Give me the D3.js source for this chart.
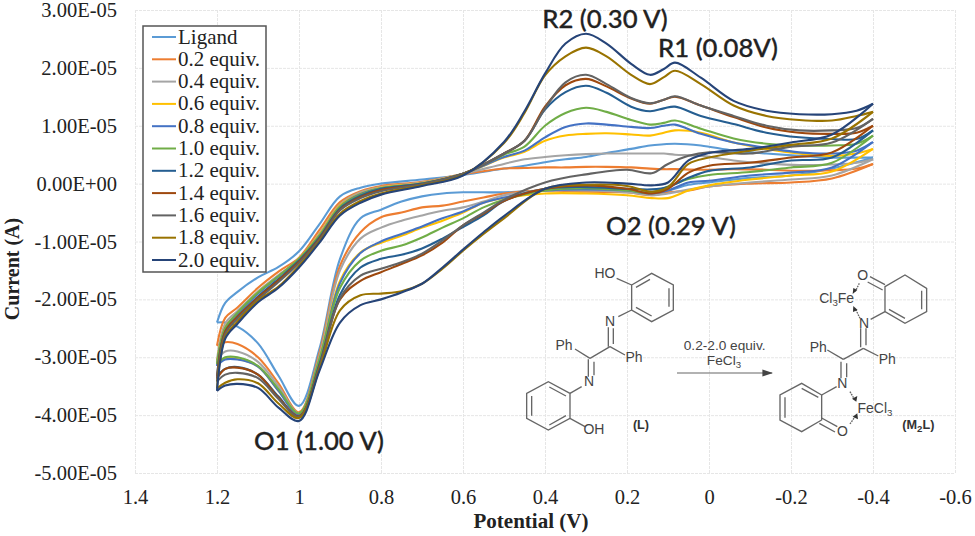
<!DOCTYPE html>
<html>
<head>
<meta charset="utf-8">
<title>Cyclic voltammetry, ligand + FeCl3</title>
<script src="https://cdn.jsdelivr.net/npm/d3@7"></script>
<style>
  html, body { margin: 0; padding: 0; background: #fff; }
  svg { display: block; }
  .tick text, .legend text { font-family: "Liberation Serif", serif; fill: #222; }
  .axis-title { font-family: "Liberation Serif", serif; font-weight: bold; font-size: 21px; fill: #222; }
  .peak { font-family: "Lato", sans-serif; font-size: 25.7px; font-weight: 500; fill: #222; stroke: #222; stroke-width: 0.3; text-anchor: middle; }
  .chem text { font-family: "Liberation Sans", sans-serif; font-size: 42px; fill: #444; text-anchor: middle; }
  .chem text.bold { font-weight: bold; font-size: 38px; fill: #333; }
  .chem path { fill: none; stroke: #666; stroke-width: 4; }
</style>
</head>
<body>
<svg id="chart" width="975" height="536"></svg>
<script>
// current is in units of 1e-5 A
var names = ["Ligand", "0.2 equiv.", "0.4 equiv.", "0.6 equiv.", "0.8 equiv.", "1.0 equiv.",
             "1.2 equiv.", "1.4 equiv.", "1.6 equiv.", "1.8 equiv.", "2.0 equiv."];
var colors = ["#5B9BD5", "#ED7D31", "#A5A5A5", "#FFC000", "#4472C4", "#70AD47",
              "#255E91", "#9E480E", "#636363", "#997300", "#264478"];

var xTicks = [1.4, 1.2, 1, 0.8, 0.6, 0.4, 0.2, 0, -0.2, -0.4, -0.6];
var yTicks = [3, 2, 1, 0, -1, -2, -3, -4, -5];

// reductive sweep, 1.2 V to -0.4 V
var upperV = [1.2, 1.18, 1.15, 1.1, 1.05, 1, 0.95, 0.9, 0.85, 0.8, 0.7, 0.6, 0.5, 0.45, 0.4, 0.35, 0.3, 0.25, 0.19, 0.144, 0.11, 0.083, 0.02, -0.06, -0.14, -0.22, -0.3, -0.36, -0.4];
var upperLigand = [-2.4, -2.06, -1.87, -1.62, -1.44, -1.17, -0.7, -0.22, -0.07, 0, 0.07, 0.15, 0.26, 0.31, 0.37, 0.42, 0.46, 0.53, 0.6, 0.66, 0.68, 0.69, 0.66, 0.57, 0.52, 0.48, 0.45, 0.45, 0.45];
var upper02 = [-2.8, -2.32, -2.14, -1.8, -1.52, -1.28, -0.8, -0.32, -0.13, -0.04, 0.03, 0.16, 0.26, 0.27, 0.28, 0.28, 0.29, 0.29, 0.28, 0.26, 0.25, 0.25, 0.24, 0.25, 0.24, 0.22, 0.23, 0.26, 0.34];
var upper04 = [-3.05, -2.42, -2.2, -1.86, -1.58, -1.3, -0.86, -0.36, -0.15, -0.06, 0.02, 0.17, 0.34, 0.42, 0.46, 0.49, 0.51, 0.52, 0.52, 0.52, 0.52, 0.5, 0.48, 0.4, 0.35, 0.32, 0.33, 0.36, 0.42];
var upper06 = [-3.1, -2.48, -2.25, -1.88, -1.6, -1.3, -0.88, -0.38, -0.17, -0.07, 0.01, 0.17, 0.45, 0.55, 0.74, 0.83, 0.86, 0.87, 0.85, 0.83, 0.88, 0.92, 0.88, 0.71, 0.6, 0.52, 0.48, 0.52, 0.6];
var upper08 = [-3.15, -2.5, -2.25, -1.9, -1.6, -1.32, -0.9, -0.4, -0.18, -0.08, 0, 0.17, 0.46, 0.57, 0.8, 0.98, 1.04, 1.02, 0.98, 0.96, 1, 1.02, 0.86, 0.71, 0.62, 0.54, 0.52, 0.57, 0.72];
var upper10 = [-3.12, -2.5, -2.23, -1.88, -1.6, -1.3, -0.9, -0.4, -0.19, -0.08, 0, 0.17, 0.5, 0.64, 1, 1.22, 1.31, 1.24, 1.1, 1.02, 1.05, 1.09, 0.95, 0.78, 0.69, 0.66, 0.66, 0.69, 0.83];
var upper12 = [-3.33, -2.56, -2.3, -1.95, -1.65, -1.33, -0.93, -0.43, -0.21, -0.09, 0, 0.17, 0.52, 0.74, 1.28, 1.58, 1.69, 1.57, 1.33, 1.25, 1.3, 1.33, 1.17, 1.03, 0.88, 0.8, 0.77, 0.77, 0.92];
var upper14 = [-3.37, -2.56, -2.3, -1.97, -1.67, -1.35, -0.95, -0.45, -0.23, -0.11, -0.01, 0.17, 0.52, 0.74, 1.33, 1.7, 1.81, 1.68, 1.47, 1.38, 1.45, 1.5, 1.35, 1.15, 0.97, 0.88, 0.86, 0.88, 1];
var upper16 = [-3.42, -2.6, -2.33, -2, -1.7, -1.37, -0.97, -0.46, -0.25, -0.13, -0.01, 0.17, 0.52, 0.74, 1.3, 1.75, 1.88, 1.72, 1.48, 1.39, 1.45, 1.51, 1.35, 1.17, 1, 0.92, 0.92, 0.96, 1.12];
var upper18 = [-3.54, -2.65, -2.38, -2.02, -1.78, -1.42, -1, -0.52, -0.3, -0.17, -0.03, 0.15, 0.7, 1.22, 1.87, 2.2, 2.35, 2.2, 1.88, 1.72, 1.84, 1.95, 1.72, 1.35, 1.17, 1.1, 1.09, 1.17, 1.24];
var upper20 = [-3.58, -2.68, -2.42, -2.05, -1.8, -1.45, -1.02, -0.55, -0.33, -0.19, -0.04, 0.14, 0.72, 1.25, 1.9, 2.42, 2.59, 2.42, 2.07, 1.88, 1.98, 2.09, 1.83, 1.43, 1.26, 1.2, 1.2, 1.26, 1.38];

// oxidative sweep, back to 1.2 V (same order of potentials, left to right)
var lowerV = [1.2, 1.18, 1.15, 1.1, 1.05, 1, 0.95, 0.9, 0.85, 0.8, 0.75, 0.7, 0.65, 0.6, 0.55, 0.5, 0.4, 0.3, 0.2, 0.14, 0.1, 0.05, 0, -0.1, -0.2, -0.3, -0.4];
var lowerLigand = [-2.4, -2.4, -2.47, -2.76, -3.32, -3.84, -2.85, -1.3, -0.6, -0.45, -0.31, -0.22, -0.17, -0.15, -0.15, -0.15, -0.12, -0.1, -0.15, -0.15, -0.12, -0.02, 0.02, 0.1, 0.14, 0.26, 0.45];
var lower02 = [-2.8, -2.74, -2.77, -3, -3.45, -3.95, -2.92, -1.42, -0.84, -0.58, -0.5, -0.41, -0.38, -0.31, -0.24, -0.17, -0.12, -0.14, -0.15, -0.2, -0.15, -0.12, -0.05, 0, 0.02, 0.09, 0.34];
var lower04 = [-3.05, -2.9, -2.9, -3.08, -3.5, -3.97, -2.97, -1.5, -0.95, -0.76, -0.64, -0.55, -0.47, -0.41, -0.31, -0.2, -0.12, -0.12, -0.15, -0.2, -0.17, -0.1, -0.05, 0.02, 0.07, 0.14, 0.42];
var lower06 = [-3.1, -3.02, -3.03, -3.16, -3.58, -3.98, -3.03, -1.68, -1.19, -1.02, -0.9, -0.76, -0.64, -0.5, -0.33, -0.25, -0.17, -0.17, -0.2, -0.25, -0.25, -0.12, -0.03, 0.07, 0.14, 0.21, 0.6];
var lower08 = [-3.15, -3.04, -3.04, -3.16, -3.58, -4, -3.05, -1.72, -1.2, -1, -0.87, -0.74, -0.6, -0.48, -0.33, -0.24, -0.12, -0.1, -0.12, -0.17, -0.12, 0.02, 0.05, 0.14, 0.19, 0.28, 0.72];
var lower10 = [-3.12, -3, -3, -3.15, -3.55, -3.97, -3.03, -1.8, -1.33, -1.16, -1.07, -0.93, -0.76, -0.6, -0.41, -0.28, -0.12, -0.08, -0.12, -0.15, -0.05, 0.08, 0.15, 0.2, 0.28, 0.36, 0.83];
var lower12 = [-3.33, -3.2, -3.17, -3.3, -3.68, -4.03, -3.12, -1.92, -1.45, -1.3, -1.23, -1.12, -0.95, -0.75, -0.55, -0.3, -0.09, -0.06, -0.09, -0.1, -0.06, 0.1, 0.22, 0.28, 0.4, 0.45, 0.92];
var lower14 = [-3.37, -3.2, -3.18, -3.3, -3.7, -4.02, -3.15, -2, -1.68, -1.53, -1.39, -1.24, -1.02, -0.72, -0.52, -0.3, -0.09, -0.03, -0.09, -0.17, -0.09, 0.19, 0.31, 0.36, 0.45, 0.54, 1];
var lower16 = [-3.42, -3.3, -3.27, -3.36, -3.72, -4.03, -3.16, -1.98, -1.59, -1.47, -1.36, -1.21, -0.98, -0.72, -0.5, -0.28, 0.02, 0.16, 0.24, 0.18, 0.34, 0.48, 0.54, 0.52, 0.64, 0.71, 1.12];
var lower18 = [-3.54, -3.44, -3.38, -3.45, -3.8, -4.05, -3.2, -2.19, -1.93, -1.9, -1.86, -1.73, -1.47, -1.16, -0.87, -0.6, -0.09, -0.02, -0.04, -0.14, -0.06, 0.34, 0.45, 0.57, 0.67, 0.78, 1.24];
var lower20 = [-3.58, -3.49, -3.46, -3.53, -3.87, -4.1, -3.23, -2.4, -2.1, -2, -1.88, -1.73, -1.45, -1.14, -0.84, -0.56, -0.09, 0.02, 0, -0.03, 0.02, 0.4, 0.53, 0.6, 0.71, 0.85, 1.38];

var upperAll = [upperLigand, upper02, upper04, upper06, upper08, upper10, upper12, upper14, upper16, upper18, upper20];
var lowerAll = [lowerLigand, lower02, lower04, lower06, lower08, lower10, lower12, lower14, lower16, lower18, lower20];

var svg = d3.select("#chart");

var x = d3.scaleLinear().domain([1.4, -0.6]).range([135, 955]);
var y = d3.scaleLinear().domain([-5, 3]).range([473, 10]);

// 3 -> 3.00E-05
var sci = function(v) {
  return (v * 1e-5).toExponential(2).toUpperCase().replace(/E([+-])(\d)$/, "E$10$2");
};

var gx = svg.append("g")
  .attr("transform", "translate(0," + y(-5) + ")")
  .call(d3.axisBottom(x).tickValues(xTicks).tickFormat(String).tickSize(-(y(-5) - y(3))).tickPadding(16));
var gy = svg.append("g")
  .attr("transform", "translate(" + x(1.4) + ",0)")
  .call(d3.axisLeft(y).tickValues(yTicks).tickFormat(sci).tickSize(-(x(-0.6) - x(1.4))).tickPadding(18));

[gx, gy].forEach(function(g) {
  g.select(".domain").remove();
  g.selectAll("line").attr("stroke", "#e6e6e6").attr("stroke-dasharray", "3,1");
  g.selectAll("text").attr("font-size", "20.5px");
});

var line = d3.line()
  .x(function(d) { return x(d[0]); })
  .y(function(d) { return y(d[1]); })
  .curve(d3.curveCatmullRom.alpha(0.5));

names.forEach(function(name, i) {
  var g = svg.append("g").attr("fill", "none").attr("stroke", colors[i]).attr("stroke-width", 2.1);
  g.append("path").attr("d", line(d3.zip(upperV, upperAll[i])));
  g.append("path").attr("d", line(d3.zip(lowerV, lowerAll[i])));
});

svg.append("text").attr("class", "axis-title")
  .attr("x", 531).attr("y", 528).attr("text-anchor", "middle").text("Potential (V)");
svg.append("text").attr("class", "axis-title").style("font-size", "20px")
  .attr("transform", "translate(19,269) rotate(-90)").attr("text-anchor", "middle").text("Current (A)");

// legend
var legend = svg.append("g").attr("class", "legend");
legend.append("rect").attr("x", 143).attr("y", 26).attr("width", 123).attr("height", 246)
  .attr("fill", "#fff").attr("stroke", "#555").attr("stroke-width", 1.5);
var rows = legend.selectAll("g").data(names).join("g")
  .attr("transform", function(d, i) { return "translate(0," + (37 + i * 22.3) + ")"; });
rows.append("line").attr("x1", 152).attr("x2", 176)
  .attr("stroke", function(d, i) { return colors[i]; }).attr("stroke-width", 2);
rows.append("text").attr("x", 178).attr("y", 6.5).attr("font-size", "21px").text(function(d) { return d; });

// peak labels
var peaks = [["R2 (0.30 V)", 605, 28], ["R1 (0.08V)", 718, 57], ["O2 (0.29 V)", 671, 235], ["O1 (1.00 V)", 319, 450]];
svg.selectAll("text.peak").data(peaks).join("text").attr("class", "peak")
  .attr("x", function(d) { return d[1]; }).attr("y", function(d) { return d[2]; })
  .text(function(d) { return d[0]; });

// the reaction scheme, drawn at 3x inside scaled groups
var bonds = function(g, list) {
  g.selectAll("path.b").data(list).join("path").attr("class", "b").attr("d", function(d) { return d; });
};
var label = function(g, s, px, py, cls) {
  return g.append("text").attr("x", px).attr("y", py).attr("class", cls || null).text(s);
};
var sub = function(t, s) {
  t.append("tspan").attr("dy", 9).attr("font-size", "29px").text(s);
  return t;
};

var lig = svg.append("g").attr("class", "chem").attr("transform", "translate(510,250) scale(0.3333)");
bonds(lig, [
  "M365,105L425,70L490,105L490,180L425,215L365,180Z",
  "M378,172L425,198M477,115L477,170M378,112L420,88",
  "M320,85L365,105M365,180L325,200",
  "M295,232L295,290M310,235L310,282",
  "M300,290L345,315M300,290L240,325M240,325L195,297",
  "M235,328L235,380M252,335L252,376",
  "M215,410L180,430",
  "M180,430L115,395L50,430L50,505L115,540L180,505Z",
  "M168,438L118,411M65,438L65,497M118,525L168,497",
  "M180,505L225,530"
]);
label(lig, "HO", 285, 85);
label(lig, "N", 300, 227);
label(lig, "Ph", 372, 337);
label(lig, "Ph", 162, 300);
label(lig, "N", 237, 408);
label(lig, "OH", 252, 552);
label(lig, "(L)", 393, 537, "bold");

var m2l = svg.append("g").attr("class", "chem").attr("transform", "translate(740,250) scale(0.3333)");
bonds(m2l, [
  "M435,110L495,75L560,115L560,185L495,220L435,185Z",
  "M545,122L545,178M495,205L447,178",
  "M435,104L390,80M428,120L383,96",
  "M435,185L392,208",
  "M362,235L362,292M378,235L378,286",
  "M370,295L415,318M370,295L310,328M310,328L262,300",
  "M303,335L303,385M320,340L320,382",
  "M290,410L245,435",
  "M245,435L185,400L120,435L120,510L185,545L245,510Z",
  "M185,415L235,442M135,442L135,503",
  "M245,504L292,530M238,520L285,546"
]);
var heads = ["M358,100L346,124", "M360,205L346,176", "M330,425L344,449", "M330,522L348,496"];
m2l.selectAll("path.h").data(heads).join("path").attr("class", "h")
  .attr("d", function(d) { return d; }).attr("stroke-dasharray", "5,3");
var tips = [[338, 132, 352, 120, 340, 114], [340, 168, 353, 180, 339, 186], [349, 455, 352, 438, 336, 446], [352, 490, 354, 508, 338, 500]];
m2l.selectAll("polygon").data(tips).join("polygon").attr("fill", "#333")
  .attr("points", function(d) { return [d[0], d[1], d[2], d[3], d[4], d[5]].join(" "); });
label(m2l, "O", 368, 91);
sub(label(m2l, "Cl", 290, 158), "3").append("tspan").attr("dy", -9).text("Fe");
label(m2l, "N", 372, 233);
label(m2l, "Ph", 442, 341);
label(m2l, "Ph", 235, 307);
label(m2l, "N", 307, 415);
sub(label(m2l, "FeCl", 405, 490), "3");
label(m2l, "O", 307, 558);
sub(label(m2l, "(M", 535, 538, "bold"), "2").append("tspan").attr("dy", -9).attr("font-size", "38px").text("L)");

// arrow with reagents
svg.append("defs").append("marker").attr("id", "tip").attr("markerWidth", 9).attr("markerHeight", 6)
  .attr("refX", 8).attr("refY", 3).attr("orient", "auto")
  .append("path").attr("d", "M0,0L9,3L0,6Z").attr("fill", "#444");
svg.append("line").attr("x1", 677).attr("x2", 772).attr("y1", 373).attr("y2", 373)
  .attr("stroke", "#666").attr("stroke-width", 1.2).attr("marker-end", "url(#tip)");
var reagents = svg.append("g").attr("class", "chem").attr("transform", "translate(510,250) scale(0.3333)");
label(reagents, "0.2-2.0 equiv.", 644, 299).style("font-size", "41px");
sub(label(reagents, "FeCl", 642, 346).style("font-size", "41px"), "3");
</script>
</body>
</html>
